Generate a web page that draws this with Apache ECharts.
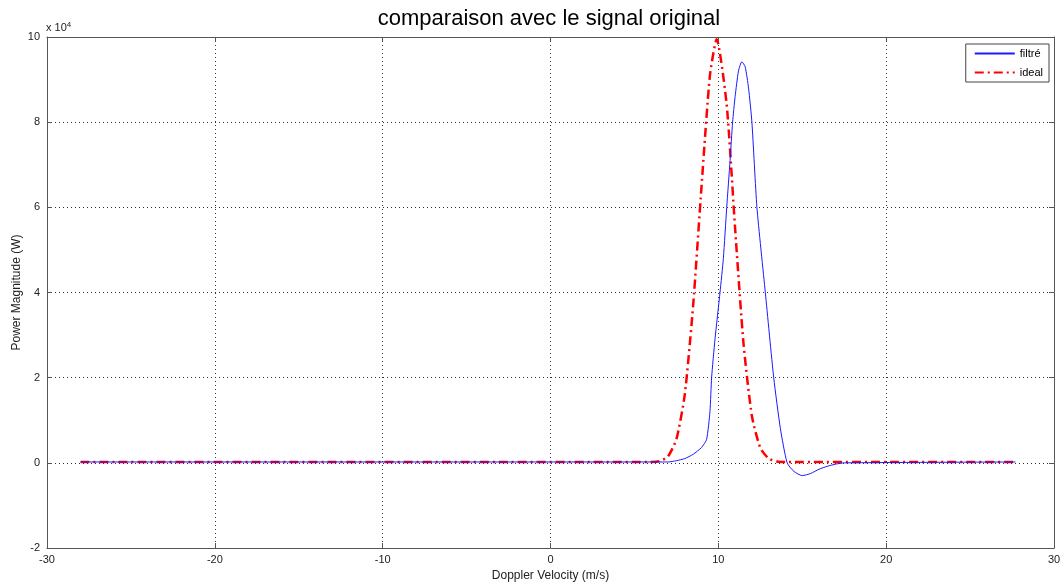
<!DOCTYPE html>
<html>
<head>
<meta charset="utf-8">
<script src="https://cdn.jsdelivr.net/npm/echarts@6/dist/echarts.min.js"></script>
<style>html,body{margin:0;padding:0;background:#fff}#c{width:1063px;height:585px}</style>
</head>
<body>
<div id="c"></div>
<script>
// Doppler velocity (m/s) and power (x 10^4 W)
const filtreX = [-28, 6.0, 7.0, 7.5, 8.0, 8.5, 9.0, 9.3, 9.5, 9.6, 9.8, 10.1, 10.3, 10.5, 10.7, 10.85, 11.0, 11.2, 11.4, 11.6, 11.8, 12.0, 12.3, 12.8, 13.3, 13.7, 14.1, 14.5, 15.0, 15.5, 16.0, 16.5, 17.0, 17.5, 27.7];
const filtreY = [0.02, 0.02, 0.02, 0.05, 0.1, 0.2, 0.36, 0.55, 1.2, 2.0, 2.9, 4.0, 4.8, 6.0, 7.1, 8.0, 8.6, 9.2, 9.42, 9.3, 8.8, 8.0, 6.0, 4.0, 2.0, 0.8, 0.0, -0.2, -0.3, -0.25, -0.15, -0.08, -0.03, 0.0, 0.02];
const idealX = [-28, 6.0, 6.5, 7.0, 7.5, 8.0, 8.5, 9.0, 9.5, 9.9, 10.5, 11.0, 11.5, 12.0, 12.5, 13.0, 13.5, 14.0, 27.7];
const idealY = [0.02, 0.02, 0.04, 0.15, 0.55, 1.6, 3.7, 6.5, 9.1, 9.95, 8.4, 5.5, 2.8, 1.1, 0.35, 0.1, 0.03, 0.02, 0.02];
const xTicks = [-30, -20, -10, 0, 10, 20, 30];
const yTicks = [-2, 0, 2, 4, 6, 8, 10];
const names = ['filtré', 'ideal'];

const pairs = (xs, ys) => xs.map((x, i) => [x, ys[i]]);
const F = 'Liberation Sans, Arial, sans-serif';
const axisCol = '#555';
const chart = echarts.init(document.getElementById('c'));
const baseX = {
  type: 'value', min: xTicks[0], max: xTicks[xTicks.length - 1], interval: 10,
  axisLine: { show: true, onZero: false, lineStyle: { color: axisCol, width: 1 } },
  axisTick: { show: true, inside: true, length: 5, lineStyle: { color: axisCol } },
};
const baseY = {
  type: 'value', min: yTicks[0], max: yTicks[yTicks.length - 1], interval: 2,
  axisLine: { show: true, onZero: false, lineStyle: { color: axisCol, width: 1 } },
  axisTick: { show: true, inside: true, length: 5, lineStyle: { color: axisCol } },
};
chart.setOption({
  animation: false,
  backgroundColor: '#fff',
  grid: { left: 47, right: 9, top: 37, bottom: 37, containLabel: false, outerBoundsMode: 'none' },
  graphic: [
    { type: 'text', x: 549, y: 19, style: { text: 'comparaison avec le signal original', font: '22px ' + F, fill: '#000', textAlign: 'center', textVerticalAlign: 'middle' } },
    { type: 'text', x: 46, y: 21, style: { rich: { a: { font: '11px ' + F, fill: '#222' }, s: { font: '8px ' + F, fill: '#222', verticalAlign: 'top', padding: [0, 0, 6, 0] } }, text: '{a|x 10}{s|4}' } }
  ],
  legend: {
    right: 14, top: 44, orient: 'vertical', itemWidth: 40, itemHeight: 10, itemGap: 8,
    padding: [4, 6, 4, 8], borderColor: '#444', borderWidth: 1, backgroundColor: '#fff',
    itemStyle: { opacity: 0 },
    textStyle: { fontFamily: F, fontSize: 11, color: '#000' },
    data: names
  },
  xAxis: [
    Object.assign({}, baseX, {
      position: 'bottom', name: 'Doppler Velocity (m/s)', nameLocation: 'middle', nameGap: 22, nameMoveOverlap: false,
      nameTextStyle: { fontFamily: F, fontSize: 12, color: '#222' },
      axisLabel: { fontFamily: F, fontSize: 11, color: '#222', margin: 6 },
      splitLine: { show: true, lineStyle: { type: [1, 3], color: '#333', width: 1 } }
    }),
    Object.assign({}, baseX, { position: 'top', axisLabel: { show: false }, splitLine: { show: false } })
  ],
  yAxis: [
    Object.assign({}, baseY, {
      position: 'left', name: 'Power Magnitude (W)', nameLocation: 'middle', nameGap: 24, nameMoveOverlap: false,
      nameTextStyle: { fontFamily: F, fontSize: 12, color: '#222' },
      axisLabel: { fontFamily: F, fontSize: 11, color: '#222', margin: 7 },
      splitLine: { show: true, lineStyle: { type: [1, 3], color: '#333', width: 1 } }
    }),
    Object.assign({}, baseY, { position: 'right', axisLabel: { show: false }, splitLine: { show: false } })
  ],
  series: [
    { name: names[0], type: 'line', xAxisIndex: 0, yAxisIndex: 0, data: pairs(filtreX, filtreY), showSymbol: false, symbol: 'none', smooth: 0.2, color: '#1a1aff', lineStyle: { color: '#1a1aff', width: 1 }, z: 3 },
    { name: names[1], type: 'line', xAxisIndex: 0, yAxisIndex: 0, data: pairs(idealX, idealY), showSymbol: false, symbol: 'none', smooth: 0.2, color: '#ff0000', lineStyle: { color: '#ff0000', width: 2.5, type: [9, 4, 2, 4] }, z: 2 }
  ]
});
</script>
</body>
</html>
